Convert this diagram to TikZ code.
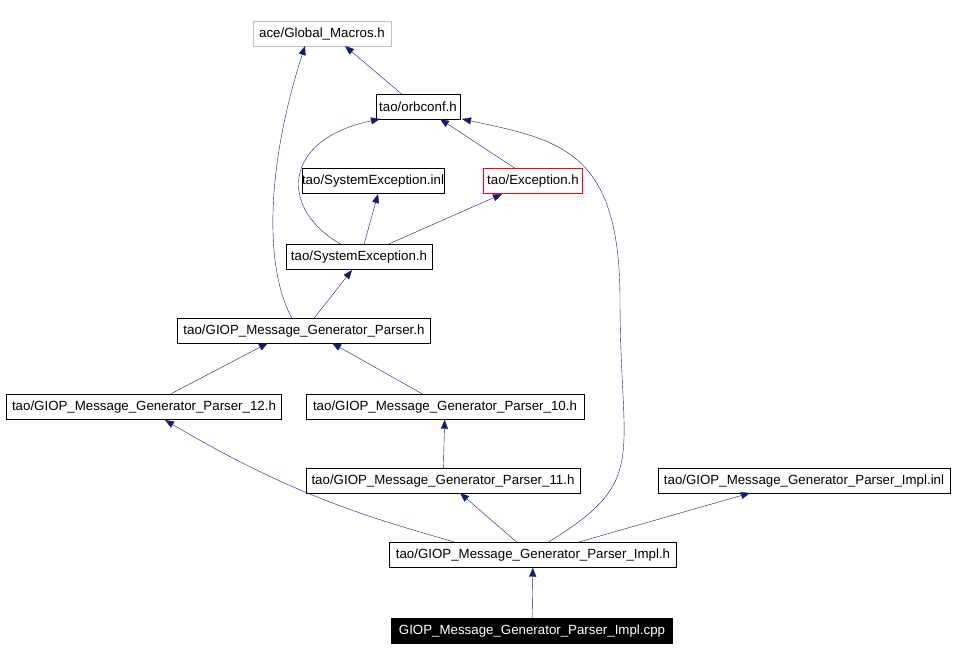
\documentclass[tikz,border=0pt]{standalone}
\usepackage{fontspec}
\setmainfont{Liberation Sans}
\usetikzlibrary{arrows.meta}
\definecolor{edgeblue}{RGB}{25,25,112}
\definecolor{boxgray}{RGB}{191,191,191}

\tikzset{
  file/.style={draw=black, fill=white, inner sep=0pt, minimum height=25pt, font=\fontsize{13.3}{15}\selectfont},
  dep/.style={draw=edgeblue, -{Triangle[length=9pt,width=7pt]}, fill=none},
}

\begin{document}
\begin{tikzpicture}[x=1pt, y=-1pt]
		\useasboundingbox (0,0) rectangle (958,659);

		% files
		\node[file, draw=boxgray, minimum width=138pt] (macros) at (322,34) {ace/Global\_Macros.h};
		\node[file, minimum width=84pt] (orbconf) at (418,107) {tao/orbconf.h};
		\node[file, minimum width=124pt] (sysinl) at (373,181) {tao/SystemException.inl};
		\node[file, draw=red, minimum width=99pt] (exc) at (533,181) {tao/Exception.h};
		\node[file, minimum width=146pt] (sysexc) at (359,257) {tao/SystemException.h};
		\node[file, minimum width=253pt] (parser) at (304,331) {tao/GIOP\_Message\_Generator\_Parser.h};
		\node[file, minimum width=275pt] (p12) at (144,407) {tao/GIOP\_Message\_Generator\_Parser\_12.h};
		\node[file, minimum width=278pt] (p10) at (445,407) {tao/GIOP\_Message\_Generator\_Parser\_10.h};
		\node[file, minimum width=274pt] (p11) at (443,481) {tao/GIOP\_Message\_Generator\_Parser\_11.h};
		\node[file, minimum width=292pt] (implinl) at (804,481) {tao/GIOP\_Message\_Generator\_Parser\_Impl.inl};
		\node[file, minimum width=287pt] (implh) at (533,555) {tao/GIOP\_Message\_Generator\_Parser\_Impl.h};
		\node[file, fill=black, text=white, minimum width=281pt] (implcpp) at (532,631) {GIOP\_Message\_Generator\_Parser\_Impl.cpp};

		% includes
		\draw[dep] (orbconf.north) ++(-16,0) -- (345,46);
		\draw[dep] (parser.north) ++(-12,0) .. controls (265,270) and (265,170) .. (305,46);
		\draw[dep] (sysexc.north) ++(-18,0) .. controls (280,210) and (280,140) .. (380,119);
		\draw[dep] (exc.north) ++(-18,0) -- (440,119);
		\draw[dep] (implh.north) ++(15,0) .. controls (650,480) and (620,460) .. (620,300)
		  .. controls (620,150) and (560,140) .. (462,119);
		\draw[dep] (sysexc.north) ++(5,0) -- (378,194);
		\draw[dep] (sysexc.north) ++(29,0) -- (502,194);
		\draw[dep] (parser.north) ++(10,0) -- (352,270);
		\draw[dep] (p12.north) ++(26,0) -- (268,343);
		\draw[dep] (p10.north) ++(-22,0) -- (332,343);
		\draw[dep] (p11) -- (p10);
		\draw[dep] (implh.north) ++(-78,0) .. controls (380,520) and (300,500) .. (165,420);
		\draw[dep] (implh.north) ++(-16,0) -- (460,493);
		\draw[dep] (implh.north) ++(45,0) -- (750,493);
		\draw[dep] (implcpp) -- (implh);
\end{tikzpicture}
\end{document}
